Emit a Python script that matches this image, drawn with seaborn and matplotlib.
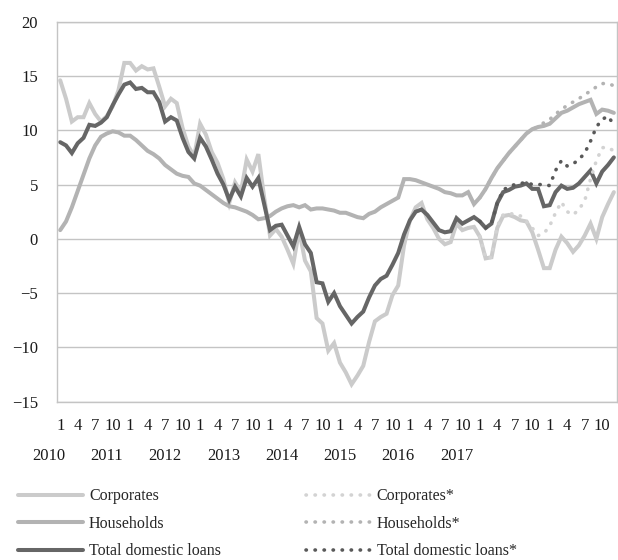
import matplotlib
matplotlib.use("Agg")
import matplotlib.pyplot as plt
import matplotlib.transforms as mtransforms
import numpy as np
import pandas as pd
import seaborn as sns

# monthly growth, Jan 2010 - Dec 2017
corporates = [
    14.6, 12.9, 10.8, 11.2, 11.2, 12.5, 11.5, 10.8, 11.3, 12.2, 13.7, 16.2,
    16.2, 15.5, 15.9, 15.6, 15.7, 14.0, 12.2, 12.9, 12.5, 10.2, 8.5, 7.6,
    10.6, 9.6, 8.0, 7.0, 5.5, 3.3, 5.2, 4.3, 7.3, 6.2, 7.8, 3.8,
    0.3, 0.9, 0.2, -1.0, -2.3, 0.8, -2.0, -3.0, -7.3, -7.8, -10.3, -9.6,
    -11.4, -12.3, -13.4, -12.6, -11.7, -9.5, -7.6, -7.2, -6.9, -5.2, -4.3, -0.6,
    1.7, 2.9, 3.3, 1.8, 1.0, 0.0, -0.5, -0.3, 1.4, 0.8, 1.0, 1.1,
    0.2, -1.8, -1.7, 1.0, 2.1, 2.2, 2.0, 1.7, 1.6, 0.6, -1.0, -2.7,
    -2.7, -1.0, 0.2, -0.4, -1.2, -0.6, 0.3, 1.4, 0.0, 2.0, 3.2, 4.3,
]
households = [
    0.8, 1.6, 2.9, 4.4, 5.9, 7.4, 8.6, 9.4, 9.7, 9.9, 9.8, 9.5,
    9.5, 9.1, 8.6, 8.1, 7.8, 7.4, 6.8, 6.4, 6.0, 5.8, 5.7, 5.1,
    4.9, 4.5, 4.1, 3.7, 3.3, 3.0, 2.9, 2.7, 2.5, 2.2, 1.8, 1.9,
    2.1, 2.5, 2.8, 3.0, 3.1, 2.9, 3.1, 2.7, 2.8, 2.8, 2.7, 2.6,
    2.4, 2.4, 2.2, 2.0, 1.9, 2.3, 2.5, 2.9, 3.2, 3.5, 3.8, 5.5,
    5.5, 5.4, 5.2, 5.0, 4.8, 4.6, 4.3, 4.2, 4.0, 4.0, 4.3, 3.2,
    3.8, 4.6, 5.6, 6.5, 7.2, 7.9, 8.5, 9.1, 9.7, 10.1, 10.3, 10.4,
    10.6, 11.1, 11.6, 11.8, 12.1, 12.4, 12.6, 12.8, 11.5, 11.9, 11.8, 11.6,
]
total = [
    8.9, 8.6, 7.9, 8.8, 9.3, 10.5, 10.4, 10.7, 11.2, 12.3, 13.3, 14.2,
    14.4, 13.8, 13.9, 13.5, 13.5, 12.6, 10.8, 11.2, 10.9, 9.3, 8.0, 7.4,
    9.3, 8.5, 7.3, 6.0, 5.0, 3.6, 4.8, 3.9, 5.6, 4.8, 5.6, 3.2,
    0.8, 1.2, 1.3, 0.3, -0.7, 1.1, -0.5, -1.3, -4.0, -4.1, -5.8, -5.0,
    -6.2, -7.0, -7.8, -7.2, -6.7, -5.4, -4.3, -3.7, -3.4, -2.4, -1.3, 0.4,
    1.7, 2.5, 2.7, 2.2, 1.5, 0.8, 0.6, 0.7, 1.9, 1.4, 1.7, 2.0,
    1.6, 1.0, 1.4, 3.3, 4.3, 4.5, 4.8, 4.9, 5.1, 4.6, 4.6, 3.0,
    3.1, 4.3, 4.9, 4.6, 4.7, 5.1, 5.7, 6.3, 5.1, 6.2, 6.8, 7.5,
]

# starred series, Jan 2016 - Dec 2017
corporates_adj = [0.2, -1.8, -1.7, 1.2, 2.2, 2.3, 2.3, 2.1, 1.6, 1.0, 0.3, 0.5,
                  1.2, 2.4, 3.4, 2.5, 2.2, 2.7, 3.5, 5.5, 7.2, 8.4, 8.4, 8.1]
households_adj = [3.8, 4.6, 5.6, 6.5, 7.2, 7.9, 8.5, 9.1, 9.7, 10.1, 10.3, 10.7,
                  11.0, 11.5, 11.9, 12.3, 12.6, 12.9, 13.3, 13.6, 14.0, 14.3, 14.3, 14.1]
total_adj = [1.6, 1.0, 1.4, 3.3, 4.5, 4.8, 5.0, 5.1, 5.2, 5.0, 5.0, 5.0,
             4.9, 6.3, 7.2, 6.7, 6.9, 7.3, 7.9, 9.0, 10.3, 11.0, 11.3, 10.5]

years = ["2010", "2011", "2012", "2013", "2014", "2015", "2016", "2017"]
month_labels = ["1", "4", "7", "10"]

sns.set_style("white")
plt.rcParams['font.family'] = ['Liberation Serif', 'DejaVu Serif']

df = pd.DataFrame({"month": np.arange(len(total)),
                   "corporates": corporates,
                   "households": households,
                   "total": total})
df_adj = pd.DataFrame({"month": np.arange(len(total) - len(total_adj), len(total)),
                       "corporates": corporates_adj,
                       "households": households_adj,
                       "total": total_adj})

fig = plt.figure(figsize=(6.18, 5.6), dpi=100)
ax = fig.add_axes([0.0927, 0.2827, 0.9053, 0.6786])

solid = [("corporates", "Corporates", "#cbcbcb"),
         ("households", "Households", "#b3b3b3"),
         ("total", "Total domestic loans", "#666666")]
dotted = [("corporates", "Corporates*", "#d3d3d3"),
          ("households", "Households*", "#b3b3b3"),
          ("total", "Total domestic loans*", "#595959")]

for col, lab, c in solid:
    sns.lineplot(data=df, x="month", y=col, ax=ax, color=c, linewidth=2.9,
                 label=lab, solid_joinstyle="miter")
for col, lab, c in dotted:
    sns.lineplot(data=df_adj, x="month", y=col, ax=ax, color=c, linewidth=2.6,
                 label=lab, linestyle=(0, (0.1, 2.4)), dash_capstyle="round")

ax.set_xlim(-0.5, len(total) - 0.5)
ax.set_ylim(-15, 20)
ax.set_yticks(range(-15, 21, 5))
ax.set_xticks(range(0, len(total), 3))
ax.set_xticklabels(month_labels * len(years))
ax.set_xlabel("")
ax.set_ylabel("")
ax.tick_params(axis="both", length=0, labelsize=12, colors="#1a1a1a")
ax.tick_params(axis="y", pad=14)
ax.tick_params(axis="x", pad=12)
ax.yaxis.grid(True, color="#c4c4c4", linewidth=1.0)
ax.xaxis.grid(False)
for s in ax.spines.values():
    s.set_visible(True)
    s.set_color("#c4c4c4")
    s.set_linewidth(1.0)

trans = mtransforms.blended_transform_factory(ax.transData, ax.transAxes)
for k, yr in enumerate(years):
    ax.text(10 * k - 2, -0.142, yr, transform=trans, ha="center", va="center",
            fontsize=12, color="#1a1a1a")

handles, labels = ax.get_legend_handles_labels()
ax.get_legend().remove()
fig.legend(handles, labels, loc="upper left", bbox_to_anchor=(0.029, 0.128),
           ncol=2, frameon=False, fontsize=11.5, handlelength=4.1,
           handletextpad=0.35, columnspacing=5.3, labelspacing=0.72,
           borderpad=0, borderaxespad=0)

fig.savefig("out.png", dpi=100)
